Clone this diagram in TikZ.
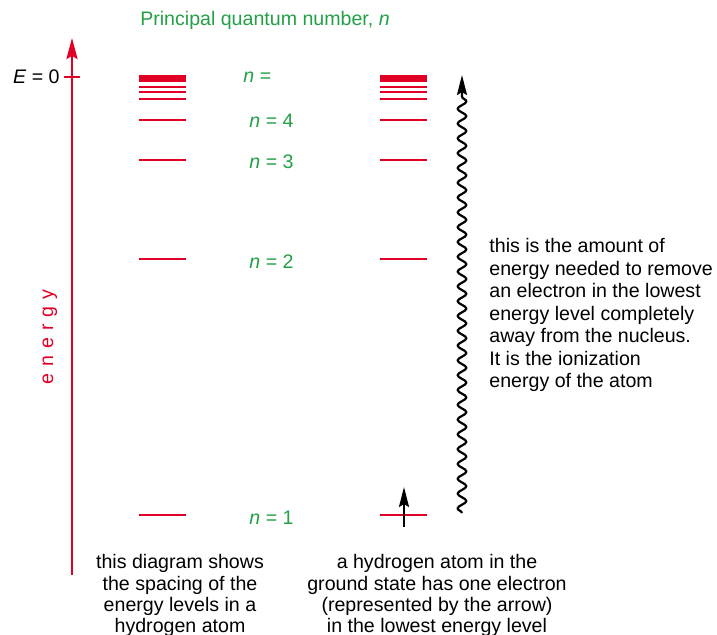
\documentclass[tikz,border=0pt]{standalone}
\usepackage{fontspec}
\setmainfont{Liberation Sans}
\usetikzlibrary{arrows.meta,decorations.pathmorphing}
\definecolor{levelred}{RGB}{226,0,38}
\definecolor{labelgreen}{RGB}{34,160,70}
\newcommand{\txt}{\fontsize{9.8}{11.25}\selectfont}
\tikzset{
  level/.style={levelred, line width=1pt},
  limit/.style={levelred, line width=3.5pt},
  axis/.style={levelred, line width=1pt, -{Stealth[length=10.5pt, width=5.5pt, inset=1.5pt]}},
  ionize/.style={line width=1.1pt, line join=round, -{Stealth[length=10pt, width=5pt, inset=1.5pt]},
    decorate, decoration={snake, amplitude=2.2pt, segment length=7.4pt, post length=10pt}},
  electron/.style={line width=1pt, -{Stealth[length=10pt, width=5pt, inset=1.5pt]}},
  qlabel/.style={labelgreen, font=\txt, anchor=west, inner sep=0pt},
  note/.style={font=\txt, inner sep=0pt}
}

\begin{document}
\begin{tikzpicture}[x=0.5pt, y=-0.5pt]
  \useasboundingbox (0,0) rectangle (717,634);

  % title
  \node[labelgreen, font=\txt] (title) at (265,20) {Principal quantum number, \textit{n}};

  % energy axis
  \coordinate (axisbase) at (72,575);
  \coordinate (axistop) at (72,38);
  \draw[axis] (axisbase) -- (axistop);
  \coordinate (zeroL) at (64,77);
  \coordinate (zeroR) at (80,77);
  \draw[level] (zeroL) -- (zeroR);
  \node[note, anchor=east] (ezero) at (60,77) {\textit{E} = 0};
  \node[levelred, font={\txt\addfontfeatures{LetterSpace=35}}, rotate=90] (energy) at (50,337) {energy};

  % energy levels, both ladders
  \foreach \x in {139,380} {
    \draw[limit] (\x,78) -- ++(47,0);
    \foreach \y in {87,92,99,120,160,259,515}
      \draw[level] (\x,\y) -- ++(47,0);
  }

  % quantum numbers
  \node[qlabel] (ninf) at (243,77) {\textit{n} =};
  \node[qlabel] (nfour) at (249,121) {\textit{n} = 4};
  \node[qlabel] (nthree) at (249,162) {\textit{n} = 3};
  \node[qlabel] (ntwo) at (249,262) {\textit{n} = 2};
  \node[qlabel] (none) at (249,518) {\textit{n} = 1};

  % electron and ionization
  \coordinate (ebase) at (404,527);
  \coordinate (etip) at (404,487);
  \draw[electron] (ebase) -- (etip);
  \coordinate (ionbase) at (462,513);
  \coordinate (iontop) at (462,75);
  \draw[ionize] (ionbase) -- (iontop);

  % notes
  \node[note, align=left, anchor=north west] (ionnote) at (489,238)
    {this is the amount of\\energy needed to remove\\an electron in the lowest\\energy level completely\\away from the nucleus.\\It is the ionization\\energy of the atom};
  \node[note, align=center, anchor=north, font=\fontsize{9.8}{10.7}\selectfont] (spacingnote) at (180,554)
    {this diagram shows\\the spacing of the\\energy levels in a\\hydrogen atom};
  \node[note, align=center, anchor=north, font=\fontsize{9.8}{10.7}\selectfont] (groundnote) at (437,554)
    {a hydrogen atom in the\\ground state has one electron\\(represented by the arrow)\\in the lowest energy level};
\end{tikzpicture}
\end{document}
